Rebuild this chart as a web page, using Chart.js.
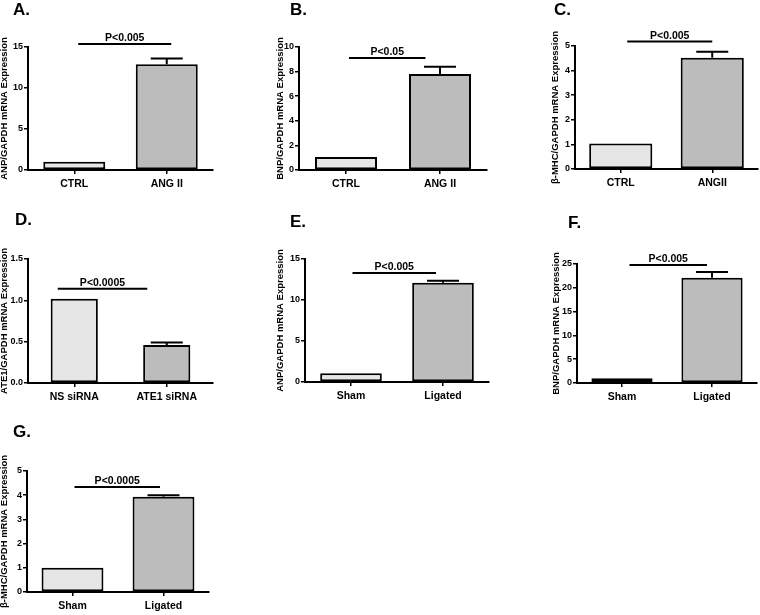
<!DOCTYPE html>
<html lang="en">
<head>
  <meta charset="UTF-8" />
  <title>mRNA expression panels</title>
  <script src="https://cdn.jsdelivr.net/npm/chart.js"></script>
  <style>
    * { margin: 0; padding: 0; box-sizing: border-box; }
    body { width: 760px; height: 615px; background: #fff; position: relative; overflow: hidden; }
    canvas { position: absolute; }
  </style>
</head>
<body>
<div id="figure"></div>

<script>
// data
const panelLetters = ["A.", "B.", "C.", "D.", "E.", "F.", "G."];
const yTitles = [
  "ANP/GAPDH mRNA Expression",
  "BNP/GAPDH mRNA Expression",
  "β-MHC/GAPDH mRNA Expression",
  "ATE1/GAPDH mRNA Expression",
  "ANP/GAPDH mRNA Expression",
  "BNP/GAPDH mRNA Expression",
  "β-MHC/GAPDH mRNA Expression"
];
const groupLabels = [
  ["CTRL", "ANG II"],
  ["CTRL", "ANG II"],
  ["CTRL", "ANGII"],
  ["NS siRNA", "ATE1 siRNA"],
  ["Sham", "Ligated"],
  ["Sham", "Ligated"],
  ["Sham", "Ligated"]
];
const meanValues = [[1.0, 12.9], [1.05, 7.8], [1.04, 4.52], [1.02, 0.46], [1.06, 12.1], [0.98, 22.1], [1.0, 3.94]];
const semValues = [[0, 0.7], [0, 0.6], [0, 0.25], [0, 0.03], [0, 0.25], [0, 1.2], [0, 0.06]];
const pLabels = ["P<0.005", "P<0.05", "P<0.005", "P<0.0005", "P<0.005", "P<0.005", "P<0.0005"];
const sigLevels = [15.37, 9.1, 5.18, 1.14, 13.3, 24.8, 4.34];
const yMaxes = [15, 10, 5, 1.5, 15, 25, 5];
const yStepSizes = [5, 2, 1, 0.5, 5, 5, 1];

// layout: canvas box, plot area (page px), bar width share, sig line offsets, letter pos
const layout = [
  { box: [0, 0, 250, 195],   area: [28, 47, 213, 170],   bar: 0.67, sigDx: [4, 4.5],     letter: [13, 15] },
  { box: [276, 0, 220, 195], area: [299, 47, 487, 170],  bar: 0.66, sigDx: [3, -14.5],   letter: [290, 15] },
  { box: [551, 0, 209, 195], area: [575, 46, 758, 169],  bar: 0.69, sigDx: [6.5, 0],     letter: [554, 15] },
  { box: [0, 195, 250, 215], area: [28, 259, 213, 383],  bar: 0.51, sigDx: [-16.5, -19.5], letter: [15, 225] },
  { box: [276, 195, 220, 215], area: [305, 259, 489, 382], bar: 0.67, sigDx: [1.5, -7],  letter: [290, 227] },
  { box: [552, 195, 208, 215], area: [577, 264, 757, 383], bar: 0.68, sigDx: [7.5, -5],  letter: [568, 228] },
  { box: [0, 410, 250, 205], area: [27, 471, 209, 592],  bar: 0.68, sigDx: [2, -3.5],    letter: [13, 437] }
];

const FONT = "'Liberation Sans', Arial, sans-serif";
const X_AXIS_H = 26;
Chart.defaults.font.family = FONT;
Chart.defaults.color = "#000";

const overlay = {
  id: "overlay",
  afterDatasetsDraw(chart, args, opts) {
    const p = opts.panel;
    const L = layout[p];
    const { ctx } = chart;
    const x = chart.scales.x, y = chart.scales.y;
    ctx.save();
    ctx.strokeStyle = "#000";
    ctx.lineWidth = 2;
    // upper error bars
    meanValues[p].forEach((v, i) => {
      const e = semValues[p][i];
      if (!e) return;
      const cx = x.getPixelForValue(i);
      const y0 = y.getPixelForValue(v);
      const y1 = y.getPixelForValue(v + e);
      ctx.beginPath();
      ctx.moveTo(cx, y0); ctx.lineTo(cx, y1);
      ctx.moveTo(cx - 16, y1); ctx.lineTo(cx + 16, y1);
      ctx.stroke();
    });
    // significance bar
    const sy = y.getPixelForValue(sigLevels[p]);
    const x0 = x.getPixelForValue(0) + L.sigDx[0];
    const x1 = x.getPixelForValue(1) + L.sigDx[1];
    ctx.beginPath();
    ctx.moveTo(x0, sy); ctx.lineTo(x1, sy);
    ctx.stroke();
    ctx.fillStyle = "#000";
    ctx.textAlign = "center";
    ctx.textBaseline = "alphabetic";
    ctx.font = "bold 10.5px " + FONT;
    ctx.fillText(pLabels[p], (x0 + x1) / 2, sy - 3);
    // panel letter
    ctx.textAlign = "left";
    ctx.font = "bold 17px " + FONT;
    ctx.fillText(panelLetters[p], L.letter[0] - L.box[0], L.letter[1] - L.box[1]);
    ctx.restore();
  }
};

const fig = document.getElementById("figure");

layout.forEach((L, p) => {
  const [bl, bt, bw, bh] = L.box;
  const [al, at, ar, ab] = L.area;
  const cv = document.createElement("canvas");
  cv.width = bw; cv.height = bh;
  cv.style.left = bl + "px"; cv.style.top = bt + "px";
  cv.style.width = bw + "px"; cv.style.height = bh + "px";
  fig.appendChild(cv);

  const axisW = al - bl;
  new Chart(cv, {
    type: "bar",
    data: {
      labels: groupLabels[p],
      datasets: [{
        data: meanValues[p],
        backgroundColor: ["#e6e6e6", "#bcbcbc"],
        borderColor: "#000",
        borderWidth: 2,
        borderSkipped: false,
        categoryPercentage: 1,
        barPercentage: L.bar
      }]
    },
    options: {
      responsive: false,
      animation: false,
      events: [],
      layout: {
        padding: { left: 0, top: at - bt, right: bl + bw - ar, bottom: bt + bh - ab - X_AXIS_H }
      },
      plugins: {
        legend: { display: false },
        tooltip: { enabled: false },
        overlay: { panel: p }
      },
      scales: {
        x: {
          afterFit: s => { s.height = X_AXIS_H; },
          border: { color: "#000", width: 2 },
          grid: { offset: false, drawOnChartArea: false, color: "#000", lineWidth: 1.5, tickLength: 4 },
          ticks: { padding: 4, font: { size: 10.5, weight: "bold" }, color: "#000", maxRotation: 0 }
        },
        y: {
          min: 0,
          max: yMaxes[p],
          afterFit: s => { s.width = axisW; },
          border: { color: "#000", width: 2 },
          grid: { drawOnChartArea: false, color: "#000", lineWidth: 1.5, tickLength: 4 },
          ticks: {
            stepSize: yStepSizes[p],
            padding: 1,
            font: { size: 9, weight: "bold" },
            color: "#000",
            callback: v => yStepSizes[p] < 1 ? v.toFixed(1) : v
          },
          title: {
            display: true,
            text: yTitles[p],
            padding: { top: 0, bottom: 0 },
            font: { size: 9.5, weight: "bold", lineHeight: 1 },
            color: "#000"
          }
        }
      }
    },
    plugins: [overlay]
  });
});
</script>
</body>
</html>
